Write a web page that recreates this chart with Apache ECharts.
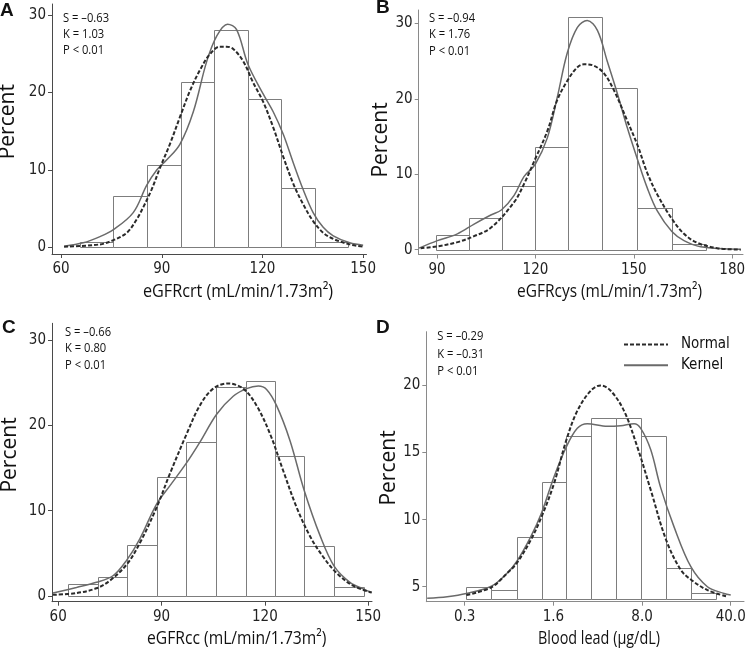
<!DOCTYPE html>
<html><head><meta charset="utf-8">
<script src="https://cdn.jsdelivr.net/npm/echarts@6/dist/echarts.min.js"></script>
<style>html,body{margin:0;padding:0;background:#fff}#c{width:748px;height:654px}</style>
</head><body><div id="c"></div>
<script>
// ---------- Panel A: eGFRcrt ----------
const aBinEdges = [65.6, 75.6, 85.6, 95.6, 105.6, 115.6, 125.6, 135.6, 145.6];
const aPercent  = [0.7, 6.6, 10.7, 21.4, 28.0, 19.1, 7.7, 0.65];
const aNormalX  = [60.9, 71.6, 75.6, 79.6, 82.5, 84.5, 87.0, 89.5, 92.4, 95.4, 98.4, 101.4, 104.3, 107.3, 109.3, 111.3, 114.3, 117.2, 120.2, 123.2, 126.2, 129.2, 132.1, 135.1, 138.1, 141.1, 146.0, 150.0];
const aNormalY  = [0.1, 0.4, 0.95, 1.9, 3.6, 5.2, 7.5, 10.3, 13.3, 16.8, 20.2, 22.9, 24.9, 25.9, 25.9, 25.6, 24.0, 21.3, 18.8, 15.5, 11.7, 8.2, 5.6, 3.4, 1.9, 1.1, 0.4, 0.1];
const aKernelX  = [60.9, 66.6, 71.6, 75.6, 81.5, 85.5, 88.5, 91.5, 95.4, 99.4, 103.4, 106.4, 109.6, 112.3, 115.7, 120.2, 123.2, 126.2, 129.2, 132.1, 135.1, 138.1, 141.1, 146.0, 150.0];
const aKernelY  = [0.17, 0.6, 1.4, 2.3, 4.5, 8.0, 10.0, 11.3, 13.3, 17.5, 24.0, 27.3, 28.8, 28.1, 23.6, 19.8, 17.5, 14.6, 10.9, 7.5, 4.5, 2.6, 1.5, 0.6, 0.3];
const aXTicks   = [60, 90, 120, 150];

// ---------- Panel B: eGFRcys ----------
const bBinEdges = [89.8, 99.8, 109.8, 119.9, 130.0, 140.4, 151.0, 161.5, 172.0];
const bPercent  = [2.0, 4.2, 8.4, 13.6, 30.9, 21.4, 5.5, 0.8];
const bNormalX  = [85.0, 90.1, 96.2, 101.3, 106.4, 113.5, 116.5, 119.9, 123.6, 126.7, 130.0, 132.8, 134.8, 137.9, 140.9, 144.0, 148.0, 151.1, 154.1, 157.2, 161.6, 165.3, 169.4, 175.5, 182.6];
const bNormalY  = [0.2, 0.44, 1.0, 1.8, 2.9, 6.3, 8.7, 12.0, 15.7, 19.9, 22.6, 24.2, 24.6, 24.4, 23.4, 21.1, 17.1, 13.9, 10.2, 7.3, 4.1, 2.1, 0.9, 0.2, 0.0];
const bKernelX  = [84.5, 90.1, 96.2, 101.3, 106.4, 109.7, 113.5, 116.5, 119.9, 123.6, 126.7, 129.7, 132.8, 135.8, 138.9, 141.9, 145.0, 148.0, 151.1, 154.1, 157.2, 161.6, 165.3, 170.4, 182.6];
const bKernelY  = [0.2, 1.2, 2.1, 3.4, 4.6, 5.3, 7.2, 9.7, 11.3, 14.8, 20.3, 26.1, 29.5, 30.4, 29.1, 25.0, 20.7, 16.2, 12.0, 8.2, 5.1, 2.4, 1.2, 0.4, 0.05];
const bXTicks   = [90, 120, 150, 180];

// ---------- Panel C: eGFRcc ----------
const cBinEdges = [62.9, 71.5, 80.1, 88.6, 97.2, 105.8, 114.4, 122.9, 131.5, 140.1, 148.7];
const cPercent  = [1.4, 2.2, 6.0, 13.9, 18.1, 24.5, 25.2, 16.4, 5.8, 1.05];
const cNormalX  = [58.5, 65.3, 71.1, 75.0, 79.9, 83.7, 88.6, 92.4, 97.3, 101.1, 105.0, 109.3, 113.7, 117.6, 121.5, 125.3, 129.2, 133.1, 136.9, 140.8, 145.6, 151.0];
const cNormalY  = [0.13, 0.34, 0.9, 1.8, 3.7, 6.2, 10.4, 14.3, 19.0, 22.3, 24.3, 24.9, 24.3, 22.3, 19.0, 14.7, 10.4, 7.0, 4.6, 2.7, 1.2, 0.4];
const cKernelX  = [58.5, 65.3, 71.1, 76.0, 79.9, 83.7, 88.6, 92.4, 97.1, 101.1, 106.0, 110.8, 114.7, 118.1, 120.5, 123.4, 127.3, 131.4, 136.0, 140.1, 144.7, 148.7, 151.0];
const cKernelY  = [0.34, 1.0, 1.6, 2.4, 4.2, 6.7, 10.8, 12.9, 15.5, 18.0, 21.3, 23.4, 24.3, 24.6, 24.2, 22.3, 18.2, 12.4, 7.1, 3.5, 1.6, 0.8, 0.4];
const cXTicks   = [60, 90, 120, 150];

// ---------- Panel D: Blood lead (log scale) ----------
const dBinEdges = [0.33, 0.52, 0.82, 1.29, 2.02, 3.19, 5.01, 7.9, 12.4, 19.6, 30.8];
const dPercent  = [4.95, 4.75, 8.7, 12.8, 16.2, 17.6, 17.6, 16.2, 6.4, 4.5];
const dNormalX  = [0.33, 0.52, 0.69, 0.82, 1.06, 1.29, 1.62, 2.02, 2.47, 3.15, 3.78, 4.53, 5.77, 7.35, 9.37, 12.4, 16.2, 19.6, 26.2, 37.6];
const dNormalY  = [4.38, 4.96, 6.0, 6.74, 8.47, 10.2, 12.7, 15.9, 18.1, 19.6, 20.0, 19.6, 18.1, 15.4, 12.2, 8.47, 6.24, 5.5, 4.75, 4.26];
const dKernelX  = [0.162, 0.233, 0.33, 0.52, 0.69, 0.82, 1.06, 1.29, 1.62, 2.02, 2.47, 2.96, 4.26, 5.43, 6.92, 7.81, 9.37, 11.2, 14.3, 19.4, 26.2, 35.4, 40];
const dKernelY  = [4.14, 4.26, 4.5, 5.05, 6.0, 6.86, 8.72, 10.5, 13.2, 15.4, 16.8, 17.15, 16.95, 17.0, 17.15, 16.8, 15.2, 12.4, 9.46, 6.49, 5.0, 4.5, 4.38];
const dXTicks   = [0.32, 1.6, 8, 40];
const dXTickLabels = ['0.3', '1.6', '8.0', '40.0'];

const pctTicks  = [0, 10, 20, 30];
const dPctTicks = [5, 10, 15, 20];

const panelLetters = ['A', 'B', 'C', 'D'];
const statsText = [
  ['S = \u20130.63', 'K = 1.03', 'P < 0.01'],
  ['S = \u20130.94', 'K = 1.76', 'P < 0.01'],
  ['S = \u20130.66', 'K = 0.80', 'P < 0.01'],
  ['S = \u20130.29', 'K = \u20130.31', 'P < 0.01']
];
const xTitles = ['eGFRcrt (mL/min/1.73m\u00B2)', 'eGFRcys (mL/min/1.73m\u00B2)', 'eGFRcc (mL/min/1.73m\u00B2)', 'Blood lead (\u00B5g/dL)'];
const yTitle = 'Percent';
const seriesNames = ['Normal', 'Kernel'];

// ---------- build ----------
const FN = "'DejaVu Sans Condensed','Liberation Sans Narrow',sans-serif";
const FS = "'Open Sans','Noto Sans',sans-serif";

const panels = [
  { grid:{left:52, top:4, width:314.5, height:250}, xr:[57.3,151], yr:[-0.84,31.4], axisColor:'#4a4a4a',
    edges:aBinEdges, pct:aPercent, nx:aNormalX, ny:aNormalY, kx:aKernelX, ky:aKernelY, xt:aXTicks, yt:pctTicks, base:0 },
  { grid:{left:418.7, top:10, width:324.3, height:244.5}, xr:[84.4,183.3], yr:[-0.64,31.8], axisColor:'#8a8a8a',
    edges:bBinEdges, pct:bPercent, nx:bNormalX, ny:bNormalY, kx:bKernelX, ky:bKernelY, xt:bXTicks, yt:pctTicks, base:0 },
  { grid:{left:52, top:323.3, width:320, height:278.4}, xr:[58.2,151.1], yr:[-0.67,31.95], axisColor:'#4a4a4a',
    edges:cBinEdges, pct:cPercent, nx:cNormalX, ny:cNormalY, kx:cKernelX, ky:cKernelY, xt:cXTicks, yt:pctTicks, base:0 },
  { grid:{left:426.3, top:331.7, width:317.7, height:270}, xr:[0.1594,50.9], yr:[3.885,24.0], axisColor:'#8a8a8a', log:true,
    edges:dBinEdges, pct:dPercent, nx:dNormalX, ny:dNormalY, kx:dKernelX, ky:dKernelY, xt:dXTicks, yt:dPctTicks, base:4.05,
    xLabels:dXTickLabels }
];

const grids = [], xAxes = [], yAxes = [], series = [];
panels.forEach((p, i) => {
  grids.push(Object.assign({ containLabel:false, outerBoundsMode:'none' }, p.grid));
  const axisLine = { show:true, onZero:false, lineStyle:{ color:p.axisColor, width:1 } };
  const tickStyle = { color:p.axisColor, width:1 };
  xAxes.push({
    type: p.log ? 'log' : 'value', logBase: 5, gridIndex:i, min:p.xr[0], max:p.xr[1],
    axisLine, splitLine:{show:false},
    axisTick:{ show:true, length:4, customValues:p.xt, lineStyle:tickStyle },
    axisLabel:{ customValues:p.xt, margin:8, color:'#222', fontFamily:FN, fontSize:15,
      formatter: p.xLabels ? (v => { let best=0; p.xt.forEach((t,k)=>{ if (Math.abs(Math.log(t)-Math.log(v)) < Math.abs(Math.log(p.xt[best])-Math.log(v))) best=k; }); return p.xLabels[best]; }) : (v => String(v)) }
  });
  yAxes.push({
    type:'value', gridIndex:i, min:p.yr[0], max:p.yr[1],
    axisLine, splitLine:{show:false},
    axisTick:{ show:true, length:4, customValues:p.yt, lineStyle:tickStyle },
    axisLabel:{ customValues:p.yt, margin:6, color:'#222', fontFamily:FN, fontSize:15 }
  });
  const bars = p.pct.map((v, k) => [p.edges[k], p.edges[k+1], v]);
  const base = p.base;
  series.push({
    type:'custom', xAxisIndex:i, yAxisIndex:i, data:bars, encode:{x:[0,1], y:2}, z:1, silent:true,
    renderItem:(params, api) => {
      const tl = api.coord([api.value(0), api.value(2)]);
      const br = api.coord([api.value(1), base]);
      const x0 = Math.round(tl[0]) + 0.5, x1 = Math.round(br[0]) + 0.5;
      const y0 = Math.round(tl[1]) + 0.5, y1 = Math.round(br[1]) + 0.5;
      return { type:'rect', shape:{ x:x0, y:y0, width:x1-x0, height:y1-y0 },
        style:{ fill:'#ffffff', stroke:'#7d7d7d', lineWidth:1 } };
    }
  });
  series.push({
    name:seriesNames[0], type:'line', xAxisIndex:i, yAxisIndex:i, z:3,
    data:p.nx.map((x,k)=>[x, p.ny[k]]), smooth:0.35, showSymbol:false, symbol:'none', clip:false,
    lineStyle:{ color:'#2a2a2a', width:2, type:[4,2] }, itemStyle:{color:'#2a2a2a'}
  });
  series.push({
    name:seriesNames[1], type:'line', xAxisIndex:i, yAxisIndex:i, z:2,
    data:p.kx.map((x,k)=>[x, p.ky[k]]), smooth:0.35, showSymbol:false, symbol:'none', clip:false,
    lineStyle:{ color:'#6a6a6a', width:1.5, type:'solid' }, itemStyle:{color:'#6a6a6a'}
  });
});

// text placements (layout only)
const letterPos = [[0,10.5],[376,8],[2,327.5],[376,327.5]];
const statsPos  = [[63,10.3,16],[429,10.1,16.4],[65,324.1,16.4],[437.3,328,17.5]];
const yTitlePos = [[8.5,121.7],[381.5,140],[10.5,455],[389,468]];
const xTitlePos = [[238,292,0.9],[609.5,292,0.86],[236.7,639,0.87],[599,639,0.8]];

const graphic = [];
panelLetters.forEach((t,i)=>{
  graphic.push({ type:'text', x:letterPos[i][0], y:letterPos[i][1], silent:true,
    style:{ text:t, fontFamily:"'Liberation Sans',Arial,sans-serif", fontWeight:'bold', fontSize:19, fill:'#111',
      align:'left', verticalAlign:'middle', textAlign:'left', textVerticalAlign:'middle' } });
  graphic.push({ type:'text', x:statsPos[i][0], y:statsPos[i][1], scaleX:0.86, silent:true,
    style:{ text:statsText[i].join('\n'), fontFamily:FS, fontSize:13, lineHeight:statsPos[i][2], fill:'#111',
      align:'left', verticalAlign:'top', textAlign:'left', textVerticalAlign:'top' } });
  graphic.push({ type:'text', x:yTitlePos[i][0], y:yTitlePos[i][1], rotation:Math.PI/2, silent:true,
    style:{ text:yTitle, fontFamily:FS, fontSize:21, fill:'#111',
      align:'center', verticalAlign:'middle', textAlign:'center', textVerticalAlign:'middle' } });
  graphic.push({ type:'text', x:xTitlePos[i][0], y:xTitlePos[i][1], scaleX:xTitlePos[i][2], silent:true,
    style:{ text:xTitles[i], fontFamily:FS, fontSize:18, fill:'#111',
      align:'center', verticalAlign:'middle', textAlign:'center', textVerticalAlign:'middle' } });
});

const chart = echarts.init(document.getElementById('c'), null, { renderer:'canvas', width:748, height:654 });
chart.setOption({
  animation:false,
  backgroundColor:'#ffffff',
  grid:grids, xAxis:xAxes, yAxis:yAxes, series,
  legend:{ data:seriesNames, orient:'vertical', left:623, top:337, itemWidth:44, itemHeight:2, itemGap:5.7,
    selectedMode:false, padding:0,
    itemStyle:{ opacity:0, borderWidth:0 },
    formatter: n => '{t|' + n + '}',
    textStyle:{ color:'#111', fontFamily:FN, fontSize:15, rich:{ t:{ padding:[0,0,0,8], fontFamily:FN, fontSize:15, lineHeight:18, color:'#111' } } } },
  graphic
});
</script>
</body></html>
